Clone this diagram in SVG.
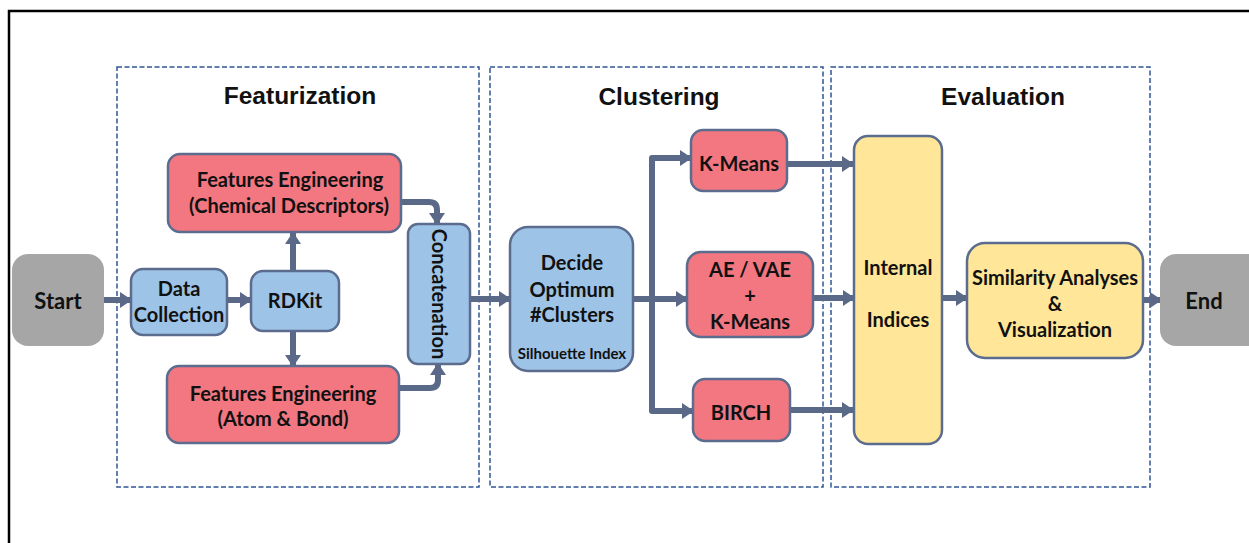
<svg xmlns="http://www.w3.org/2000/svg" width="1249" height="543" viewBox="0 0 1249 543">
  <defs>
    <marker id="arrow" viewBox="0 0 12 16" refX="11" refY="8" markerWidth="12" markerHeight="16" markerUnits="userSpaceOnUse" orient="auto">
      <path d="M0,0 L12,8 L0,16 Z" fill="#5a6988"/>
    </marker>
    <style>
      .frame { fill: none; stroke: #000; stroke-width: 2.5; }
      .stage { fill: none; stroke: #2f5597; stroke-width: 1.5; stroke-dasharray: 5 2.5; }
      .title { font-family: "Liberation Sans", Arial, sans-serif; font-weight: bold; font-size: 24.5px; fill: #111; text-anchor: middle; }
      .lbl { font-family: Lato, "Open Sans", sans-serif; font-weight: bold; font-size: 20px; fill: #111; text-anchor: middle; }
      .big { font-size: 22px; }
      .small { font-size: 15px; }
      .term { fill: #a6a6a6; stroke: none; }
      .blue { fill: #9dc3e6; stroke: #5b6c8f; stroke-width: 2.5; }
      .red { fill: #f27780; stroke: #5b6c8f; stroke-width: 2.5; }
      .yellow { fill: #ffe699; stroke: #5b6c8f; stroke-width: 2.5; }
      .conn { fill: none; stroke: #5a6988; stroke-width: 6; stroke-linejoin: round; }
    </style>
  </defs>

  <rect width="1249" height="543" fill="#fff"/>
  <!-- outer frame, open to the right and bottom -->
  <path class="frame" d="M9,543 V11 H1249"/>

  <!-- stage boxes -->
  <g id="stages">
    <rect class="stage" x="117" y="67" width="362" height="420"/>
    <rect class="stage" x="490" y="67" width="333" height="420"/>
    <rect class="stage" x="831" y="67" width="319" height="420"/>
    <text class="title" x="300" y="104">Featurization</text>
    <text class="title" x="659" y="105">Clustering</text>
    <text class="title" x="1003" y="105">Evaluation</text>
  </g>

  <!-- connectors -->
  <g id="connectors">
    <path class="conn" d="M95,300 H131" marker-end="url(#arrow)"/>
    <path class="conn" d="M227,300 H251" marker-end="url(#arrow)"/>
    <path class="conn" d="M293,271 V233" marker-end="url(#arrow)"/>
    <path class="conn" d="M293,331 V366" marker-end="url(#arrow)"/>
    <path class="conn" d="M401,202 H429 Q437,202 437,210 V224" marker-end="url(#arrow)"/>
    <path class="conn" d="M399,388 H430 Q438,388 438,380 V364" marker-end="url(#arrow)"/>
    <path class="conn" d="M470,299 H510" marker-end="url(#arrow)"/>
    <path class="conn" d="M633,299 H687" marker-end="url(#arrow)"/>
    <path class="conn" d="M691,158 H652 V411 H693" marker-end="url(#arrow)"/>
    <path class="conn" d="M652,158 H691" marker-end="url(#arrow)"/>
    <path class="conn" d="M787,164 H853" marker-end="url(#arrow)"/>
    <path class="conn" d="M813,298 H854" marker-end="url(#arrow)"/>
    <path class="conn" d="M790,410 H853" marker-end="url(#arrow)"/>
    <path class="conn" d="M942,298 H967" marker-end="url(#arrow)"/>
    <path class="conn" d="M1143,300 H1161" marker-end="url(#arrow)"/>
  </g>

  <g id="start">
    <rect class="term" x="12" y="254" width="92" height="92" rx="16"/>
    <text class="lbl big" x="58" y="309">Start</text>
  </g>

  <g id="data-collection">
    <rect class="blue" x="131" y="269" width="96" height="66" rx="12"/>
    <text class="lbl" x="179" y="296">Data</text>
    <text class="lbl" x="179" y="322">Collection</text>
  </g>

  <g id="rdkit">
    <rect class="blue" x="251" y="271" width="88" height="60" rx="12"/>
    <text class="lbl" x="295" y="308">RDKit</text>
  </g>

  <g id="fe-chemical">
    <rect class="red" x="168" y="154" width="233" height="78" rx="12"/>
    <text class="lbl" x="290" y="187">Features Engineering</text>
    <text class="lbl" x="289" y="213">(Chemical Descriptors)</text>
  </g>

  <g id="fe-atom-bond">
    <rect class="red" x="167" y="366" width="232" height="77" rx="12"/>
    <text class="lbl" x="283" y="401">Features Engineering</text>
    <text class="lbl" x="283" y="426">(Atom &amp; Bond)</text>
  </g>

  <g id="concatenation">
    <rect class="blue" x="408" y="224" width="62" height="140" rx="10"/>
    <text class="lbl" transform="translate(432,294) rotate(90)" x="0" y="0">Concatenation</text>
  </g>

  <g id="decide-clusters">
    <rect class="blue" x="510" y="227" width="123" height="144" rx="18"/>
    <text class="lbl" x="572" y="270">Decide</text>
    <text class="lbl" x="572" y="297">Optimum</text>
    <text class="lbl" x="572" y="322">#Clusters</text>
    <text class="lbl small" x="572" y="359">Silhouette Index</text>
  </g>

  <g id="kmeans">
    <rect class="red" x="691" y="130" width="96" height="61" rx="12"/>
    <text class="lbl" x="739" y="171">K-Means</text>
  </g>

  <g id="ae-vae-kmeans">
    <rect class="red" x="687" y="252" width="126" height="85" rx="14"/>
    <text class="lbl" x="750" y="277">AE / VAE</text>
    <text class="lbl" x="750" y="303">+</text>
    <text class="lbl" x="750" y="329">K-Means</text>
  </g>

  <g id="birch">
    <rect class="red" x="693" y="379" width="97" height="62" rx="12"/>
    <text class="lbl" x="741" y="420">BIRCH</text>
  </g>

  <g id="internal-indices">
    <rect class="yellow" x="854" y="136" width="88" height="308" rx="14"/>
    <text class="lbl" x="898" y="275">Internal</text>
    <text class="lbl" x="898" y="327">Indices</text>
  </g>

  <g id="similarity">
    <rect class="yellow" x="967" y="243" width="176" height="115" rx="18"/>
    <text class="lbl" x="1055" y="285">Similarity Analyses</text>
    <text class="lbl" x="1055" y="311">&amp;</text>
    <text class="lbl" x="1055" y="337">Visualization</text>
  </g>

  <g id="end">
    <rect class="term" x="1160" y="254" width="110" height="92" rx="16"/>
    <text class="lbl big" x="1204" y="309">End</text>
  </g>
</svg>
